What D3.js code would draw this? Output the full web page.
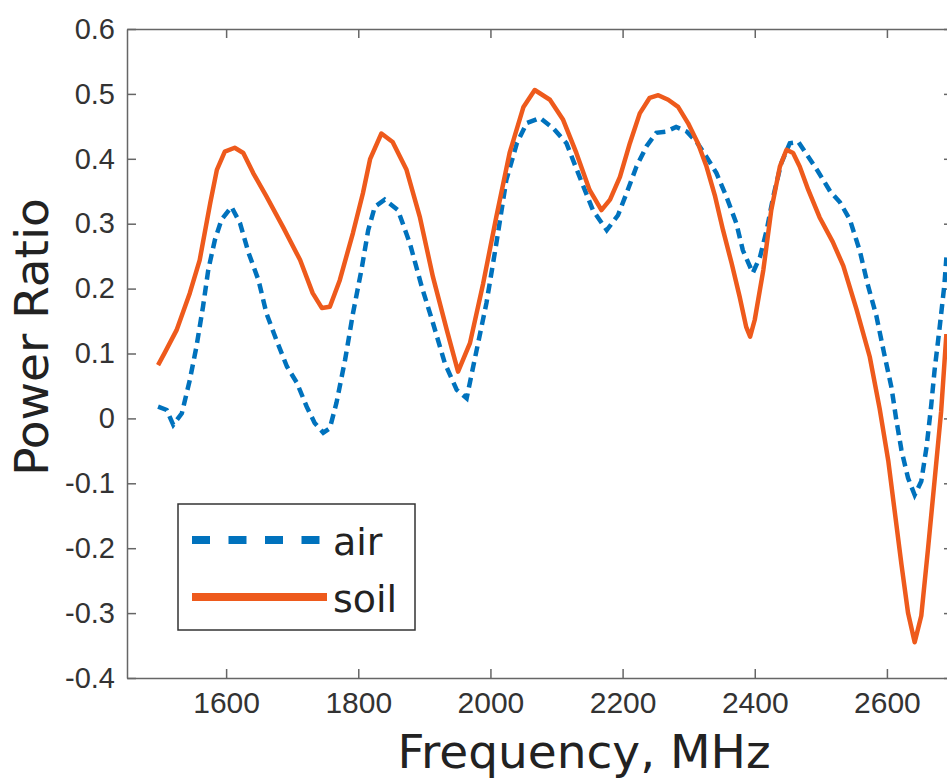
<!DOCTYPE html>
<html>
  <body>
    <style>
      body {
        margin: 0;
        background: #fff;
      }

      .tick-label {
        font-family: "Liberation Sans", Arial, sans-serif;
        fill: #333;
      }

      .axis-title {
        font-family: "DejaVu Sans", sans-serif;
        font-size: 47px;
        fill: #222;
      }

      .legend-text {
        font-family: "DejaVu Sans", sans-serif;
        font-size: 38px;
        fill: #222;
      }
    </style>
    <script src="https://cdn.jsdelivr.net/npm/d3@7"></script>
    <script type="text/javascript">
      // Power ratio vs frequency, air vs soil
      const width = 947;
      const height = 780;

      const xTicks = [1600, 1800, 2000, 2200, 2400, 2600];
      const yTicks = [-0.4, -0.3, -0.2, -0.1, 0, 0.1, 0.2, 0.3, 0.4, 0.5, 0.6];

      const airFreq = [1497, 1510, 1520, 1533, 1545, 1555, 1565, 1573, 1583, 1593,
        1608, 1621, 1634, 1649, 1661, 1676, 1692, 1707, 1722, 1734, 1747, 1757,
        1767, 1780, 1792, 1805, 1815, 1825, 1840, 1860, 1878, 1896, 1913, 1931,
        1949, 1964, 1976, 1994, 2009, 2024, 2040, 2055, 2075, 2095, 2115, 2135,
        2155, 2176, 2193, 2206, 2221, 2236, 2251, 2266, 2281, 2297, 2312, 2327,
        2342, 2357, 2372, 2382, 2397, 2408, 2418, 2428, 2440, 2453, 2466, 2481,
        2496, 2514, 2529, 2544, 2559, 2571, 2584, 2596, 2607, 2614, 2622, 2632,
        2642, 2652, 2660, 2667, 2672, 2680, 2687, 2690];
      const airValues = [0.018, 0.013, -0.010, 0.008, 0.059, 0.110, 0.172, 0.229, 0.275, 0.306,
        0.326, 0.301, 0.255, 0.213, 0.162, 0.121, 0.080, 0.055, 0.018, -0.007, -0.022, -0.015,
        0.024, 0.090, 0.162, 0.230, 0.290, 0.326, 0.337, 0.321, 0.270, 0.203, 0.147, 0.085,
        0.044, 0.031, 0.090, 0.178, 0.270, 0.367, 0.424, 0.455, 0.463, 0.447, 0.424, 0.372,
        0.321, 0.290, 0.313, 0.347, 0.388, 0.419, 0.440, 0.442, 0.449, 0.442, 0.426, 0.403,
        0.378, 0.342, 0.301, 0.259, 0.224, 0.249, 0.290, 0.342, 0.393, 0.424, 0.426, 0.403,
        0.380, 0.350, 0.333, 0.306, 0.258, 0.206, 0.158, 0.099, 0.047, -0.001, -0.049, -0.092,
        -0.118, -0.097, -0.044, 0.020, 0.073, 0.142, 0.206, 0.248];

      const soilFreq = [1497, 1507, 1525, 1545, 1560, 1576, 1586, 1598, 1613, 1626,
        1641, 1661, 1686, 1712, 1731, 1745, 1757, 1772, 1792, 1807, 1818, 1835,
        1852, 1873, 1893, 1913, 1934, 1951, 1969, 1989, 2009, 2029, 2050, 2067,
        2090, 2110, 2130, 2150, 2168, 2181, 2196, 2211, 2226, 2241, 2254, 2269,
        2284, 2299, 2314, 2327, 2340, 2352, 2365, 2377, 2387, 2393, 2400, 2413,
        2425, 2438, 2448, 2458, 2468, 2481, 2498, 2518, 2534, 2554, 2574, 2589,
        2602, 2612, 2622, 2632, 2642, 2652, 2662, 2672, 2682, 2690];
      const soilValues = [0.082, 0.101, 0.136, 0.193, 0.244, 0.332, 0.383, 0.411, 0.417, 0.409,
        0.378, 0.342, 0.295, 0.244, 0.193, 0.170, 0.172, 0.213, 0.286, 0.347, 0.400, 0.439,
        0.426, 0.383, 0.311, 0.218, 0.136, 0.072, 0.116, 0.208, 0.311, 0.409, 0.480, 0.506,
        0.491, 0.460, 0.409, 0.352, 0.321, 0.337, 0.372, 0.424, 0.470, 0.494, 0.498, 0.491,
        0.480, 0.455, 0.424, 0.388, 0.342, 0.290, 0.239, 0.188, 0.141, 0.126, 0.152, 0.229,
        0.321, 0.388, 0.414, 0.409, 0.388, 0.352, 0.310, 0.272, 0.235, 0.168, 0.095, 0.015,
        -0.065, -0.145, -0.225, -0.300, -0.345, -0.304, -0.203, -0.097, 0.010, 0.130];

      const airColor = '#0072BD';
      const soilColor = '#EE5A1C';
      const axisColor = '#666';

      const plot = { left: 127, top: 29, right: 953, bottom: 678 };

      const svg = d3.select('body')
        .append('svg')
        .attr('width', width)
        .attr('height', height);

      const x = d3.scaleLinear()
        .domain([1450, 2700])
        .range([plot.left, plot.right]);

      const y = d3.scaleLinear()
        .domain([-0.4, 0.6])
        .range([plot.bottom, plot.top]);

      const fmtY = (d) => (Math.abs(d) < 1e-9 ? '0' : d.toFixed(1));

      function styleAxis(g) {
        g.select('.domain').attr('stroke', axisColor).attr('stroke-width', 1.5);
        g.selectAll('.tick line').attr('stroke', axisColor).attr('stroke-width', 1.5);
      }

      // bottom axis, ticks pointing in
      const xAxis = svg.append('g')
        .attr('transform', `translate(0,${plot.bottom})`)
        .call(d3.axisBottom(x).tickValues(xTicks).tickFormat(d3.format('d'))
          .tickSizeInner(-9).tickSizeOuter(0).tickPadding(14));
      styleAxis(xAxis);
      xAxis.selectAll('.tick text')
        .attr('class', 'tick-label')
        .attr('font-size', 30)
        .attr('dy', '0.71em')
        .attr('y', 14);

      // top axis (box)
      const xTop = svg.append('g')
        .attr('transform', `translate(0,${plot.top})`)
        .call(d3.axisTop(x).tickValues(xTicks).tickSizeInner(-9).tickSizeOuter(0).tickFormat(''));
      styleAxis(xTop);

      // left axis
      const yAxis = svg.append('g')
        .attr('transform', `translate(${plot.left},0)`)
        .call(d3.axisLeft(y).tickValues(yTicks).tickFormat(fmtY).tickSizeInner(-9).tickSizeOuter(0).tickPadding(12));
      styleAxis(yAxis);
      yAxis.selectAll('.tick text')
        .attr('class', 'tick-label')
        .attr('font-size', 29)
        .attr('x', -12);

      // right axis (box)
      const yRight = svg.append('g')
        .attr('transform', `translate(${plot.right},0)`)
        .call(d3.axisRight(y).tickValues(yTicks).tickSizeInner(-9).tickSizeOuter(0).tickFormat(''));
      styleAxis(yRight);

      svg.selectAll('.domain').attr('fill', 'none');

      const line = d3.line()
        .x((d) => x(d[0]))
        .y((d) => y(d[1]));

      const airData = airFreq.map((f, i) => [f, airValues[i]]);
      const soilData = soilFreq.map((f, i) => [f, soilValues[i]]);

      svg.append('path')
        .datum(airData)
        .attr('d', line)
        .attr('fill', 'none')
        .attr('stroke', airColor)
        .attr('stroke-width', 4.5)
        .attr('stroke-dasharray', '10,6');

      svg.append('path')
        .datum(soilData)
        .attr('d', line)
        .attr('fill', 'none')
        .attr('stroke', soilColor)
        .attr('stroke-width', 4.5)
        .attr('stroke-linejoin', 'round');

      // axis titles
      svg.append('text')
        .attr('class', 'axis-title')
        .attr('text-anchor', 'middle')
        .attr('x', 584)
        .attr('y', 768)
        .text('Frequency, MHz');

      svg.append('text')
        .attr('class', 'axis-title')
        .attr('text-anchor', 'middle')
        .attr('transform', 'translate(48,337) rotate(-90)')
        .text('Power Ratio');

      // legend
      const legend = svg.append('g');
      legend.append('rect')
        .attr('x', 178)
        .attr('y', 504)
        .attr('width', 237)
        .attr('height', 126)
        .attr('fill', '#fff')
        .attr('stroke', '#333')
        .attr('stroke-width', 1.5);

      const legendItems = [
        { name: 'air', color: airColor, dash: '18,18.5', y: 540 },
        { name: 'soil', color: soilColor, dash: null, y: 597 }
      ];

      legendItems.forEach((item) => {
        legend.append('line')
          .attr('x1', 192)
          .attr('x2', 327)
          .attr('y1', item.y)
          .attr('y2', item.y)
          .attr('stroke', item.color)
          .attr('stroke-width', 8)
          .attr('stroke-dasharray', item.dash);
        legend.append('text')
          .attr('class', 'legend-text')
          .attr('x', 333)
          .attr('y', item.y + 15)
          .text(item.name);
      });
    </script>
  </body>
</html>
